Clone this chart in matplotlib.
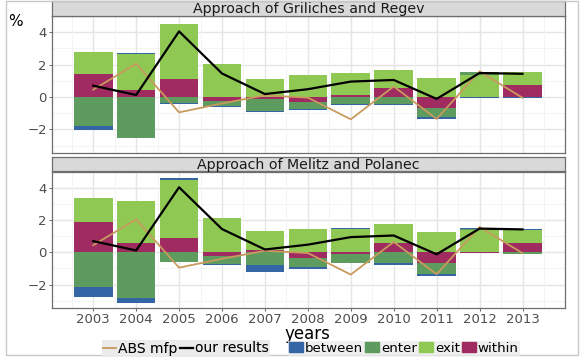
import numpy as np
import matplotlib
matplotlib.use('Agg')
import matplotlib.pyplot as plt
from matplotlib.lines import Line2D
from matplotlib.patches import Patch, Rectangle

# --- data ---------------------------------------------------------------------
years = np.arange(2003, 2014)
panels = ['Approach of Griliches and Regev', 'Approach of Melitz and Polanec']
parts = ['within', 'exit', 'enter', 'between']  # stacking order from zero outward

gr_within = [1.40, 0.43, 1.11, -0.24, -0.12, -0.30, 0.10, 0.53, -0.66, 0.00, 0.72]
gr_exit = [1.38, 2.24, 3.39, 2.02, 1.11, 1.36, 1.36, 1.12, 1.17, 1.33, 0.82]
gr_enter = [-1.79, -2.55, -0.37, -0.33, -0.72, -0.47, -0.41, -0.45, -0.60, 0.23, 0.00]
gr_between = [-0.27, 0.05, -0.08, -0.05, -0.08, -0.06, -0.08, -0.06, -0.08, -0.07, -0.08]

mp_within = [1.87, 0.60, 0.88, -0.25, 0.15, -0.33, -0.10, 0.58, -0.68, -0.06, 0.58]
mp_exit = [1.53, 2.61, 3.65, 2.16, 1.21, 1.44, 1.44, 1.17, 1.26, 1.38, 0.84]
mp_enter = [-2.16, -2.84, -0.60, -0.45, -0.76, -0.58, -0.56, -0.66, -0.66, 0.10, -0.10]
mp_between = [-0.62, -0.29, 0.10, -0.08, -0.47, -0.12, 0.10, -0.12, -0.14, 0.03, 0.04]

our_results = [0.70, 0.12, 4.05, 1.45, 0.18, 0.48, 0.95, 1.05, -0.12, 1.48, 1.43]
abs_mfp = [0.45, 2.05, -0.95, -0.40, 0.10, -0.04, -1.38, 0.65, -1.36, 1.58, -0.05]

data = [
    dict(within=gr_within, exit=gr_exit, enter=gr_enter, between=gr_between),
    dict(within=mp_within, exit=mp_exit, enter=mp_enter, between=mp_between)]

# --- styles -------------------------------------------------------------------
colors = {'between': '#3465A4', 'enter': '#5E9B5E', 'exit': '#8FC954', 'within': '#A02B60'}
col_abs, col_our = '#C89A5E', 'black'
W, H = 584, 357

plt.rcParams['font.family'] = ['DejaVu Sans']
fig = plt.figure(figsize=(W / 100, H / 100), dpi=100)

def fx(px): return px / W
def fy(py): return 1 - py / H

# panel boxes in pixels: (top, bottom) and strips (top, bottom)
pan_y = [(16, 153), (172, 308)]
strip_y = [(1, 15.5), (157, 171)]
xl, xr = 52, 565

for ip, (ptop, pbot) in enumerate(pan_y):
    ax = fig.add_axes([fx(xl), fy(pbot), fx(xr - xl), (pbot - ptop) / H])
    ax.set_xlim(2002.04, 2013.99)
    ax.set_ylim(-3.46, 5.0)
    # grid
    for yy in [-3, -1, 1, 3]:
        ax.axhline(yy, color='#F2F2F2', lw=0.6, zorder=0)
    for yy in [-2, 0, 2, 4]:
        ax.axhline(yy, color='#E5E5E5', lw=1.0, zorder=0)
    for xx in np.arange(2002.5, 2014.0, 1.0):
        ax.axvline(xx, color='#F2F2F2', lw=0.6, zorder=0)
    for xx in years:
        ax.axvline(xx, color='#E5E5E5', lw=1.0, zorder=0)
    # stacked bars
    pos, neg = np.zeros(len(years)), np.zeros(len(years))
    for part in parts:
        vals = np.array(data[ip][part])
        base = np.where(vals >= 0, pos, neg)
        ax.bar(years, vals, bottom=base, width=0.9, color=colors[part],
               linewidth=0, zorder=2)
        pos += np.where(vals >= 0, vals, 0)
        neg += np.where(vals < 0, vals, 0)
    # lines
    ax.plot(years, abs_mfp, color=col_abs, lw=1.3, zorder=3)
    ax.plot(years, our_results, color=col_our, lw=1.6, zorder=4)
    # axes styling
    ax.set_yticks([-2, 0, 2, 4])
    ax.set_yticklabels(['\u22122', '0', '2', '4'])
    ax.set_xticks(years)
    ax.tick_params(axis='both', colors='#4D4D4D', labelsize=9.5, length=2.5, width=0.6,
                   labelcolor='#4D4D4D', pad=1.2)
    if ip == 0:
        ax.tick_params(axis='x', length=0, labelbottom=False)
    for sp in ax.spines.values():
        sp.set_color('#6E6E6E'); sp.set_linewidth(0.9)
    # strip
    stop, sbot = strip_y[ip]
    sax = fig.add_axes([fx(xl), fy(sbot), fx(xr - xl), (sbot - stop) / H])
    sax.set_facecolor('#D9D9D9')
    sax.set_xticks([]); sax.set_yticks([])
    for sp in sax.spines.values():
        sp.set_color('#6E6E6E'); sp.set_linewidth(0.9)
    sax.text(0.5, 0.45, panels[ip], ha='center', va='center', fontsize=10.2,
             color='#1A1A1A', transform=sax.transAxes)

# axis titles
fig.text(fx(8), fy(21), '%', fontsize=11, ha='left', va='center')
fig.text(fx(307), fy(334), 'years', fontsize=12, ha='center', va='center')

# legends
h_lines = [Line2D([], [], color=col_abs, lw=1.3), Line2D([], [], color=col_our, lw=1.6)]
leg1 = fig.legend(h_lines, ['ABS mfp', 'our results'], ncol=2, loc='center',
                  bbox_to_anchor=(fx(186), fy(348.5)), fontsize=10, frameon=True,
                  facecolor='#EBEBEB', edgecolor='none', fancybox=False,
                  handlelength=0.9, handletextpad=0.15, columnspacing=0.2,
                  borderpad=0.1, borderaxespad=0)
h_fill = [Patch(color=colors[k]) for k in ['between', 'enter', 'exit', 'within']]
leg2 = fig.legend(h_fill, ['between', 'enter', 'exit', 'within'], ncol=4, loc='center',
                  bbox_to_anchor=(fx(404), fy(348.5)), fontsize=9.6, frameon=True,
                  facecolor='#EBEBEB', edgecolor='none', fancybox=False,
                  handlelength=1.0, handleheight=0.8, handletextpad=0.15,
                  columnspacing=0.2, borderpad=0.1, borderaxespad=0)
fig.add_artist(leg1)

# outer frame
fig.add_artist(Rectangle((fx(6), fy(355)), fx(572), 354 / H, transform=fig.transFigure,
                         fill=False, edgecolor='#C8C8C8', lw=1.0))

fig.savefig('out.png', dpi=100)
